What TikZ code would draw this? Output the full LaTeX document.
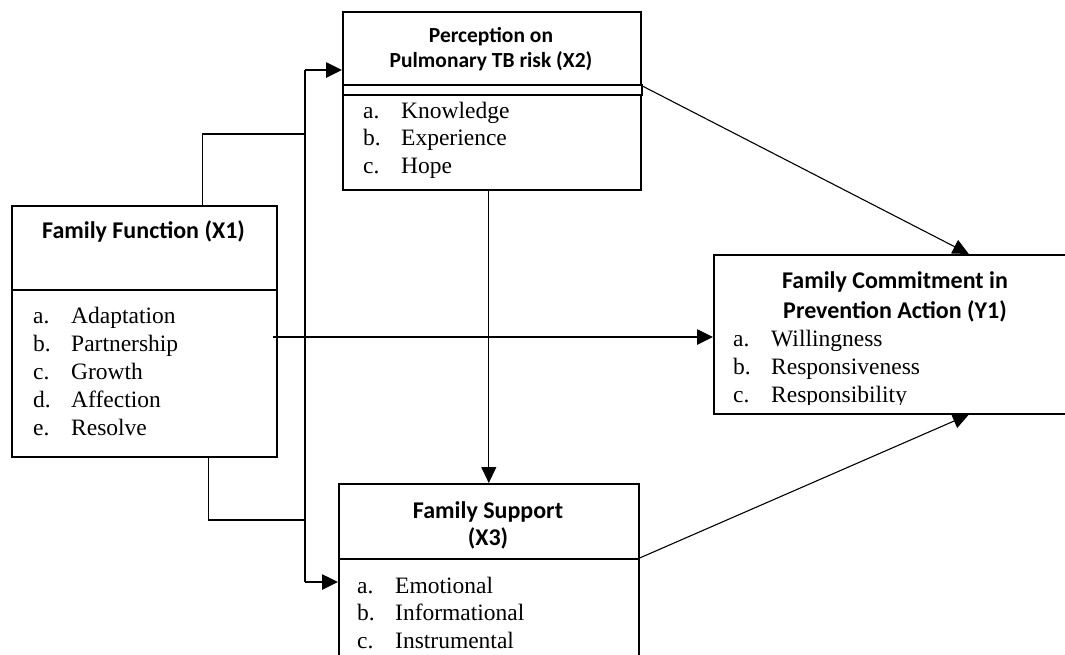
\documentclass[tikz,border=0pt]{standalone}
\usepackage{fontspec}
\setmainfont{Liberation Serif}
\newfontfamily\headfont{Carlito}
\usetikzlibrary{arrows.meta,positioning}
\newcommand\itm[2]{\makebox[38pt][l]{#1}#2}

\begin{document}
\begin{tikzpicture}[x = 1pt, y = -1pt,
    box/.style = {draw, line width = 1.6pt, inner sep = 0pt, anchor = north west},
    head/.style = {font = \headfont\bfseries\fontsize{24}{28}\selectfont, inner sep = 0pt, anchor = base},
    item/.style = {font = \fontsize{23.5}{28}\selectfont, inner sep = 0pt, anchor = base west},
    link/.style = {line width = 1.1pt},
    bus/.style = {line width = 2.6pt},
    tip/.style = {-{Triangle[length = 16pt, width = 15pt]}}]
  \useasboundingbox (0,0) rectangle (1065,654);
  \clip (0,0) rectangle (1065,654);
  % boxes
  \node (x1h) [box, minimum width = 265pt, minimum height = 84pt] at (11,205) {};
  \node (x1b) [box, minimum width = 265pt, minimum height = 167pt] at (11,289) {};
  \node (x2h) [box, minimum width = 298pt, minimum height = 73pt] at (342,11) {};
  \node (x2m) [box, minimum width = 299pt, minimum height = 10pt] at (342,84) {};
  \node (x2b) [box, minimum width = 298pt, minimum height = 95pt] at (342,94) {};
  \node (x3h) [box, minimum width = 300pt, minimum height = 75pt] at (338,483) {};
  \node (x3b) [box, minimum width = 300pt, minimum height = 120pt] at (338,558) {};
  \node (y1) [box, minimum width = 362pt, minimum height = 159pt] at (713,254) {};
  % headings
  \node (x1t) [head] at (143.5,238) {Family Function (X1)};
  \node (x2t) [head, font = \headfont\bfseries\fontsize{21.5}{25}\selectfont] at (491,42) {Perception on};
  \node (x2u) [head, font = \headfont\bfseries\fontsize{21.5}{25}\selectfont] at (491,67) {Pulmonary TB risk (X2)};
  \node (x3t) [head] at (488,518) {Family Support};
  \node (x3u) [head] at (488,545) {(X3)};
  \node (y1t) [head] at (895,288) {Family Commitment in};
  \node (y1u) [head] at (895,318) {Prevention Action (Y1)};
  % items
  \foreach \l/\t [count = \i] in {a./Adaptation, b./Partnership, c./Growth, d./Affection, e./Resolve}
    \node (x1i\i) [item] at (33, {295 + 28*\i}) {\itm{\l}{\t}};
  \foreach \l/\t [count = \i] in {a./Knowledge, b./Experience, c./Hope}
    \node (x2i\i) [item] at (363, {90.5 + 27.5*\i}) {\itm{\l}{\t}};
  \foreach \l/\t [count = \i] in {a./Emotional, b./Informational, c./Instrumental}
    \node (x3i\i) [item] at (357, {565.5 + 27.5*\i}) {\itm{\l}{\t}};
  \begin{scope}
    \clip (713,254) rectangle (1065,404);
    \foreach \l/\t [count = \i] in {a./Willingness, b./Responsiveness, c./Responsibility}
      \node (y1i\i) [item] at (733, {318 + 28*\i}) {\itm{\l}{\t}};
  \end{scope}
  % connectors
  \coordinate (bt) at (305,70);
  \coordinate (bb) at (305,582);
  \coordinate (jt) at (305,134);
  \coordinate (jb) at (305,520);
  \coordinate (m0) at (273,337);
  \draw [bus] (bt) -- (bb);
  \draw [bus, tip] (bt) -- (bt -| x2h.west);
  \draw [bus, tip] (bb) -- (bb -| x3b.west);
  \draw [bus, tip] (m0) -- (m0 -| y1.west);
  \draw [link] ([xshift = 58.5pt]x1h.north) |- (jt);
  \draw [link] ([xshift = 64.5pt]x1b.south) |- (jb);
  \draw [link, tip] ([xshift = -3pt]x2b.south) -- (x3h.north);
  \draw [link, tip] (x2h.south east) -- ([xshift = 74pt]y1.north);
  \draw [link, tip] (x3b.north east) -- ([xshift = 74pt]y1.south);
\end{tikzpicture}
\end{document}
